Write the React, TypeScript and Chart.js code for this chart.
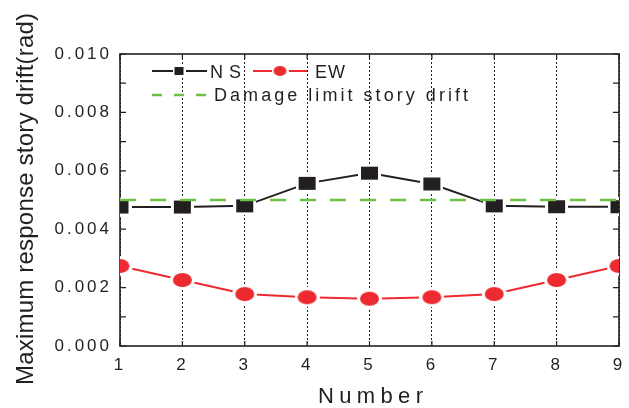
import React, { useEffect, useRef } from 'react';
import { Chart, registerables } from 'chart.js';

Chart.register(...registerables);

// Story-drift results per frame number
const frameNumbers = [1, 2, 3, 4, 5, 6, 7, 8, 9];
const driftNS = [0.00476, 0.00476, 0.0048, 0.00557, 0.00592, 0.00555, 0.0048, 0.00477, 0.00477];
const driftEW = [0.00274, 0.00226, 0.00178, 0.00167, 0.00162, 0.00167, 0.00178, 0.00226, 0.00274];
const damageLimit = 0.005;

// Axis ticks
const yTickValues = [0, 0.002, 0.004, 0.006, 0.008, 0.01];
const yTickLabels = ['0.000', '0.002', '0.004', '0.006', '0.008', '0.010'];
const yMinorValues = [0.001, 0.003, 0.005, 0.007, 0.009];

const INK = '#231f20';
const RED = '#ec2a2f';
const GREEN = '#6dbf45';
const FONT = '"Liberation Sans", Arial, sans-serif';

function makeMarker(w: number, h: number, halo: number, color: string, shape: 'rect' | 'ellipse') {
  const c = document.createElement('canvas');
  c.width = w + 2 * halo;
  c.height = h + 2 * halo;
  const g = c.getContext('2d')!;
  g.fillStyle = '#ffffff';
  if (shape === 'rect') {
    g.fillRect(0, 0, c.width, c.height);
    g.fillStyle = color;
    g.fillRect(halo, halo, w, h);
  } else {
    g.beginPath();
    g.ellipse(c.width / 2, c.height / 2, c.width / 2, c.height / 2, 0, 0, Math.PI * 2);
    g.fill();
    g.fillStyle = color;
    g.beginPath();
    g.ellipse(c.width / 2, c.height / 2, w / 2, h / 2, 0, 0, Math.PI * 2);
    g.fill();
  }
  return c;
}

// Draw text spread out so that it spans the given width
function spreadText(ctx: CanvasRenderingContext2D, text: string, left: number, y: number, width: number) {
  (ctx as any).letterSpacing = '0px';
  const w0 = ctx.measureText(text).width;
  const n = text.length;
  const sp = n > 1 ? (width - w0) / (n - 1) : 0;
  (ctx as any).letterSpacing = sp + 'px';
  ctx.textAlign = 'left';
  ctx.fillText(text, left, y);
  (ctx as any).letterSpacing = '0px';
}

export default function App() {
  const canvasRef = useRef<HTMLCanvasElement | null>(null);

  useEffect(() => {
    const canvas = canvasRef.current;
    if (!canvas) return;

    const squareBig = makeMarker(17, 13, 3, INK, 'rect');
    const ellipseBig = makeMarker(19, 14, 3, RED, 'ellipse');
    const squareSmall = makeMarker(9, 8, 2, INK, 'rect');
    const ellipseSmall = makeMarker(13, 10, 2, RED, 'ellipse');

    const decorations = {
      id: 'decorations',
      beforeDraw(chart: any) {
        (chart.ctx as any).letterSpacing = '3px';
      },
      beforeDatasetsDraw(chart: any) {
        const { ctx, chartArea: a, scales } = chart;
        const ys = scales.y;
        const xs = scales.x;
        ctx.save();
        (ctx as any).letterSpacing = '0px';
        ctx.setLineDash([]);
        ctx.strokeStyle = INK;
        ctx.lineWidth = 1.2;
        // inward tick marks on all four sides
        ctx.beginPath();
        [...yTickValues, ...yMinorValues].forEach((v) => {
          const py = ys.getPixelForValue(v);
          ctx.moveTo(a.left, py);
          ctx.lineTo(a.left + 6, py);
          ctx.moveTo(a.right, py);
          ctx.lineTo(a.right - 6, py);
        });
        frameNumbers.forEach((v) => {
          const px = xs.getPixelForValue(v);
          ctx.moveTo(px, a.bottom);
          ctx.lineTo(px, a.bottom - 5);
          ctx.moveTo(px, a.top);
          ctx.lineTo(px, a.top + 5);
        });
        ctx.stroke();
        // frame
        ctx.lineWidth = 1.6;
        ctx.strokeRect(a.left, a.top, a.right - a.left, a.bottom - a.top);
        ctx.restore();
      },
      afterDraw(chart: any) {
        const { ctx } = chart;
        ctx.save();
        ctx.fillStyle = INK;
        ctx.textBaseline = 'alphabetic';

        // x-axis title
        ctx.font = `22px ${FONT}`;
        spreadText(ctx, 'Number', 318, 403, 105);

        // y-axis title
        ctx.save();
        ctx.translate(33, 199);
        ctx.rotate(-Math.PI / 2);
        ctx.font = `24px ${FONT}`;
        spreadText(ctx, 'Maximum response story drift(rad)', -186, 0, 372);
        ctx.restore();

        // legend
        ctx.lineCap = 'butt';
        ctx.setLineDash([]);
        ctx.lineWidth = 2;
        ctx.strokeStyle = INK;
        ctx.beginPath();
        ctx.moveTo(152, 71);
        ctx.lineTo(207, 71);
        ctx.stroke();
        ctx.drawImage(squareSmall, 179 - squareSmall.width / 2, 71 - squareSmall.height / 2);

        ctx.strokeStyle = RED;
        ctx.beginPath();
        ctx.moveTo(253, 71);
        ctx.lineTo(307, 71);
        ctx.stroke();
        ctx.drawImage(ellipseSmall, 280 - ellipseSmall.width / 2, 71 - ellipseSmall.height / 2);

        ctx.strokeStyle = GREEN;
        ctx.lineWidth = 2.5;
        ctx.setLineDash([10, 12]);
        ctx.beginPath();
        ctx.moveTo(152, 95);
        ctx.lineTo(207, 95);
        ctx.stroke();
        ctx.setLineDash([]);

        ctx.font = `18px ${FONT}`;
        spreadText(ctx, 'NS', 210, 78, 31);
        spreadText(ctx, 'EW', 315, 78, 30);
        spreadText(ctx, 'Damage limit story drift', 214, 100.7, 254);
        ctx.restore();
      },
    };

    const chart = new Chart(canvas, {
      type: 'line',
      data: {
        datasets: [
          {
            label: 'Damage limit story drift',
            data: [
              { x: frameNumbers[0], y: damageLimit },
              { x: frameNumbers[frameNumbers.length - 1], y: damageLimit },
            ],
            borderColor: GREEN,
            borderWidth: 2.5,
            borderDash: [16, 14],
            pointRadius: 0,
            order: 0,
            clip: 0,
          },
          {
            label: 'NS',
            data: frameNumbers.map((x, i) => ({ x, y: driftNS[i] })),
            borderColor: INK,
            borderWidth: 2,
            pointStyle: squareBig as any,
            pointRadius: 8,
            order: 1,
            clip: 0,
          },
          {
            label: 'EW',
            data: frameNumbers.map((x, i) => ({ x, y: driftEW[i] })),
            borderColor: RED,
            borderWidth: 2,
            pointStyle: ellipseBig as any,
            pointRadius: 8,
            order: 2,
            clip: 0,
          },
        ],
      },
      options: {
        animation: false,
        responsive: false,
        events: [],
        layout: { padding: { top: 54, right: 6, left: 0, bottom: 0 } },
        plugins: {
          legend: { display: false },
          tooltip: { enabled: false },
          title: { display: false },
        },
        scales: {
          x: {
            type: 'linear',
            min: frameNumbers[0],
            max: frameNumbers[frameNumbers.length - 1],
            afterBuildTicks: (s: any) => {
              s.ticks = frameNumbers.map((v) => ({ value: v }));
            },
            grid: { display: true, color: INK, lineWidth: 1, drawTicks: false, drawOnChartArea: true },
            border: { display: false, dash: [2, 2] },
            ticks: {
              padding: 9,
              color: INK,
              font: { family: FONT, size: 17 },
              maxRotation: 0,
              callback: (v: any) => String(v),
            },
            afterFit: (s: any) => {
              s.height = 62;
              s.paddingLeft = 0;
              s.paddingRight = 0;
            },
          },
          y: {
            type: 'linear',
            min: 0,
            max: 0.01,
            afterBuildTicks: (s: any) => {
              s.ticks = yTickValues.map((v) => ({ value: v }));
            },
            grid: { display: false, drawTicks: false },
            border: { display: false },
            ticks: {
              padding: 8,
              color: INK,
              font: { family: FONT, size: 17 },
              callback: (v: any) => {
                const i = yTickValues.findIndex((t) => Math.abs(t - Number(v)) < 1e-9);
                return i >= 0 ? yTickLabels[i] : '';
              },
            },
            afterFit: (s: any) => {
              s.width = 120;
              s.paddingTop = 0;
              s.paddingBottom = 0;
            },
          },
        },
      },
      plugins: [decorations],
    });

    return () => chart.destroy();
  }, []);

  return (
    <div style={{ position: 'absolute', left: 0, top: 0, width: 629, height: 408, background: '#fff' }}>
      <canvas ref={canvasRef} width={629} height={408} style={{ width: 629, height: 408, display: 'block' }} />
    </div>
  );
}
